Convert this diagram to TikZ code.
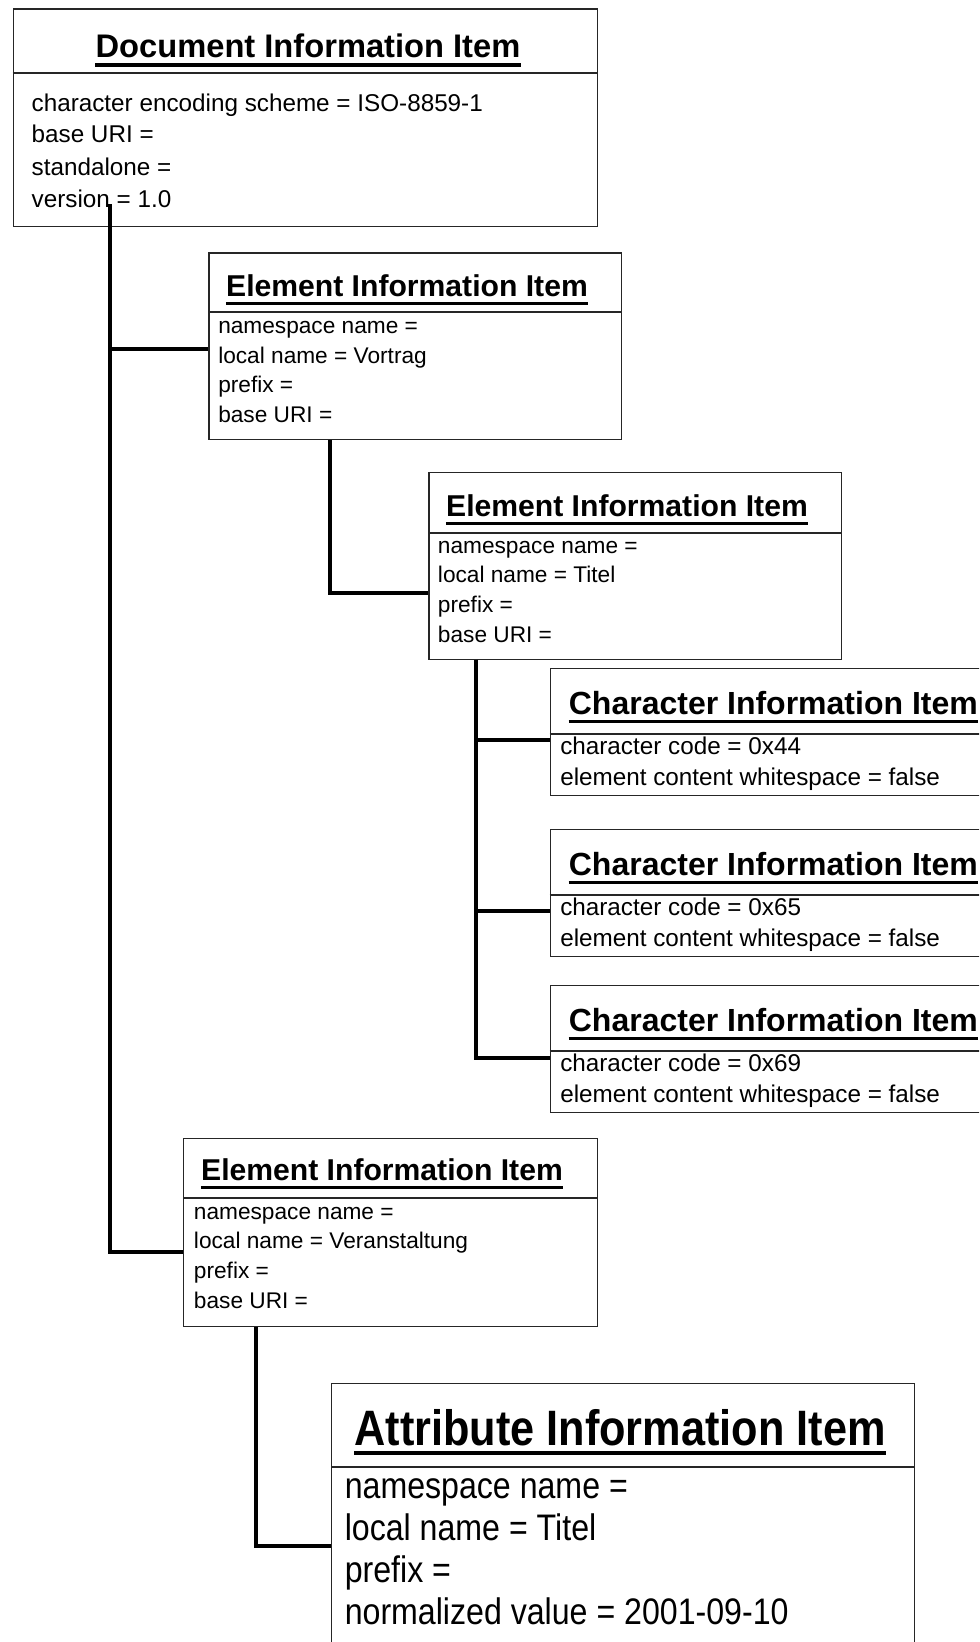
\documentclass[tikz,border=0pt]{standalone}
\usepackage{fontspec}
\setmainfont{Liberation Sans}
\newfontfamily\narrowfont[FakeStretch=0.87]{Liberation Sans}
\usetikzlibrary{calc}
\newdimen\pxu \pxu=0.75pt
\newcommand{\fsz}[1]{\fontsize{#1}{#1}\selectfont}

\tikzset{
  box/.style={draw=black!85, line width=1pt, anchor=north west, inner sep=0, fill=white},
  divider/.style={draw=black!85, line width=1pt},
  conn/.style={draw=black, line width=3pt},
  uline/.style={draw=black, line width=2.6pt},
  ttl/.style={anchor=base, inner sep=0, font=\bfseries},
  row/.style={anchor=base west, inner sep=0},
}

\begin{document}
\begin{tikzpicture}[x=0.75pt, y=-0.75pt]
\useasboundingbox (0,0) rectangle (979,1642);
\clip (0,0) rectangle (979,1642);

% ---------- Document information item ----------
\node[box, minimum width=584.4\pxu, minimum height=217.6\pxu] (doc) at (12.6,8.4) {};
\draw[divider] ($(doc.north west)+(0,64.6)$) -- ($(doc.north east)+(0,64.6)$);
\node[ttl, font=\bfseries\fsz{24.5pt}] (doct) at (308,57.6) {Document Information Item};
\draw[uline] ($(doct.base west)+(0,7.4)$) -- ($(doct.base east)+(0,7.4)$);
\begin{scope}[every node/.style={row, font=\fsz{18.2pt}}]
\node (doc1) at (31.4,111) {character encoding scheme = ISO-8859-1};
\node (doc2) at (31.4,142.5) {base URI =};
\node (doc3) at (31.4,175) {standalone =};
\node (doc4) at (31.4,207) {version = 1.0};
\end{scope}

% ---------- Element: Vortrag ----------
\node[box, minimum width=412.6\pxu, minimum height=186.3\pxu] (vor) at (208.4,252.4) {};
\draw[divider] ($(vor.north west)+(0,59.6)$) -- ($(vor.north east)+(0,59.6)$);
\node[ttl, font=\bfseries\fsz{22.6pt}] (vort) at (407,296) {Element Information Item};
\draw[uline] ($(vort.base west)+(0,7.5)$) -- ($(vort.base east)+(0,7.5)$);
\begin{scope}[every node/.style={row, font=\fsz{17pt}}]
\node (vor1) at (218,333) {namespace name =};
\node (vor2) at (218,363) {local name = Vortrag};
\node (vor3) at (218,392.7) {prefix =};
\node (vor4) at (218,422) {base URI =};
\end{scope}

% ---------- Element: Titel ----------
\node[box, minimum width=412.7\pxu, minimum height=186.6\pxu] (tit) at (428.3,472) {};
\draw[divider] ($(tit.north west)+(0,61)$) -- ($(tit.north east)+(0,61)$);
\node[ttl, font=\bfseries\fsz{22.6pt}] (titt) at (627,516) {Element Information Item};
\draw[uline] ($(titt.base west)+(0,7.5)$) -- ($(titt.base east)+(0,7.5)$);
\begin{scope}[every node/.style={row, font=\fsz{17pt}}]
\node (tit1) at (437.7,553) {namespace name =};
\node (tit2) at (437.7,582) {local name = Titel};
\node (tit3) at (437.7,612) {prefix =};
\node (tit4) at (437.7,642) {base URI =};
\end{scope}

% ---------- Character information items ----------
\foreach \n/\top/\code in {a/668/0x44, b/829/0x65, c/985/0x69}{
  \node[box, minimum width=460\pxu, minimum height=127\pxu] (ch\n) at (549.7,\top) {};
  \draw[divider] ($(ch\n.north west)+(0,66)$) -- ($(ch\n.north east)+(0,66)$);
  \node[anchor=base west, inner sep=0, font=\bfseries\fsz{24pt}] (ch\n t) at (568.6,\top+46) {Character Information Item};
  \draw[uline] ($(ch\n t.base west)+(0,7.5)$) -- ($(ch\n t.base east)+(0,7.5)$);
  \node[row, font=\fsz{18.2pt}] (ch\n 1) at (560,\top+86) {character code = \code};
  \node[row, font=\fsz{18.2pt}] (ch\n 2) at (560,\top+117) {element content whitespace = false};
}

% ---------- Element: Veranstaltung ----------
\node[box, minimum width=414\pxu, minimum height=187.6\pxu] (ver) at (183,1138) {};
\draw[divider] ($(ver.north west)+(0,60)$) -- ($(ver.north east)+(0,60)$);
\node[ttl, font=\bfseries\fsz{22.6pt}] (vert) at (382,1180) {Element Information Item};
\draw[uline] ($(vert.base west)+(0,7.5)$) -- ($(vert.base east)+(0,7.5)$);
\begin{scope}[every node/.style={row, font=\fsz{17pt}}]
\node (ver1) at (193.7,1219) {namespace name =};
\node (ver2) at (193.7,1248) {local name = Veranstaltung};
\node (ver3) at (193.7,1278.5) {prefix =};
\node (ver4) at (193.7,1308) {base URI =};
\end{scope}

% ---------- Attribute information item ----------
\node[box, minimum width=583\pxu, minimum height=300\pxu] (att) at (331,1383) {};
\draw[divider] ($(att.north west)+(0,84)$) -- ($(att.north east)+(0,84)$);
\node[ttl, font=\narrowfont\bfseries\fsz{37.3pt}] (attt) at (620,1445) {Attribute Information Item};
\draw[uline] ($(attt.base west)+(0,8)$) -- ($(attt.base east)+(0,8)$);
\begin{scope}[every node/.style={row, font=\narrowfont\fsz{27.7pt}}]
\node (att1) at (344.5,1498) {namespace name =};
\node (att2) at (344.5,1540) {local name = Titel};
\node (att3) at (344.5,1582) {prefix =};
\node (att4) at (344.5,1624) {normalized value = 2001-09-10};
\end{scope}

% ---------- Tree connectors ----------
\coordinate (docstem) at (110,204);
\draw[conn] (docstem) |- ($(vor.north west)+(0,96.6)$);
\draw[conn] (docstem) |- ($(ver.north west)+(0,114)$);
\draw[conn] ($(vor.south west)+(121.6,0)$) |- ($(tit.north west)+(0,120.6)$);
\draw[conn] ($(tit.south west)+(48.1,0)$) |- ($(cha.north west)+(0,72)$);
\draw[conn] ($(tit.south west)+(48.1,0)$) |- ($(chb.north west)+(0,82)$);
\draw[conn] ($(tit.south west)+(48.1,0)$) |- ($(chc.north west)+(0,72.6)$);
\draw[conn] ($(ver.south west)+(72.5,0)$) |- ($(att.north west)+(0,162.5)$);
\end{tikzpicture}
\end{document}
